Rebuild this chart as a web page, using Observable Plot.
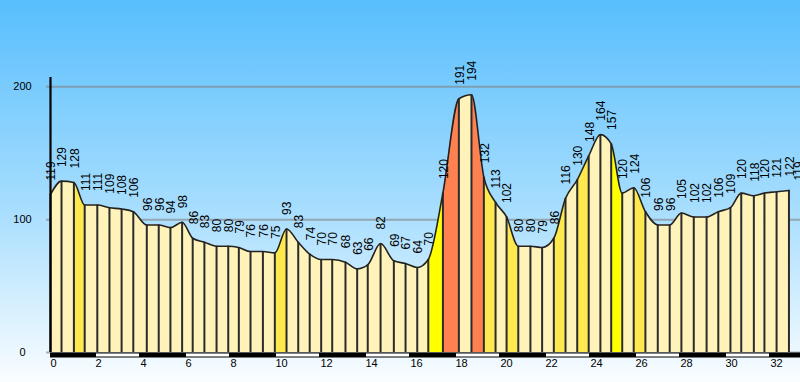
<!DOCTYPE html>
<html>
<head>
<meta charset="utf-8">
<script src="https://cdn.jsdelivr.net/npm/d3@7"></script>
<script src="https://cdn.jsdelivr.net/npm/@observablehq/plot@0.6"></script>
<style>
  html, body { margin: 0; padding: 0; }
  body {
    width: 800px; height: 382px; overflow: hidden;
    background: linear-gradient(to bottom, #58befd 0%, #a8defe 55%, #fafdff 100%);
  }
  #chart svg { display: block; background: none !important; }
</style>
</head>
<body>
<div id="chart"></div>
<script>
// Distance along the route (km) of each profile point
const distanceKm = [
  0, 0.49, 1.04, 1.52, 2.08, 2.62, 3.16, 3.68, 4.28, 4.81,
  5.33, 5.85, 6.32, 6.84, 7.38, 7.90, 8.37, 8.89, 9.44, 9.97,
  10.49, 11.01, 11.52, 12.03, 12.52, 13.11, 13.63, 14.10, 14.67, 15.26,
  15.78, 16.30, 16.79, 17.44, 18.15, 18.71, 19.26, 19.78, 20.27, 20.79,
  21.33, 21.85, 22.37, 22.89, 23.41, 23.92, 24.44, 24.92, 25.41, 25.92,
  26.44, 26.99, 27.52, 28.04, 28.59, 29.16, 29.68, 30.22, 30.70, 31.26,
  31.73, 32.27, 32.82, 33.24
];
// Elevation (m) of each profile point
const elevation = [
  119, 129, 128, 111, 111, 109, 108, 106, 96, 96,
  94, 98, 86, 83, 80, 80, 79, 76, 76, 75,
  93, 83, 74, 70, 70, 68, 63, 66, 82, 69,
  67, 64, 70, 120, 191, 194, 132, 113, 102, 80,
  80, 79, 86, 116, 130, 148, 164, 157, 120, 124,
  106, 96, 96, 105, 102, 102, 106, 109, 120, 118,
  120, 121, 122, 119
];
// Gradient class of each segment between consecutive drawn points (0 gentle .. 3 steep)
const gradeClass = [
  0, 0, 1, 0, 0, 0, 0, 0, 0, 0,
  0, 0, 0, 0, 0, 0, 0, 0, 0, 1,
  0, 0, 0, 0, 0, 0, 0, 0, 0, 0,
  0, 0, 2, 3, 0, 3, 1, 0, 1, 0,
  0, 0, 1, 0, 1, 0, 0, 2, 0, 1,
  0, 0, 0, 0, 0, 0, 0, 0, 0, 0,
  0, 0
];
const xTicks = [0, 2, 4, 6, 8, 10, 12, 14, 16, 18, 20, 22, 24, 26, 28, 30, 32];
const yTicks = [0, 100, 200];
const whiteBandStarts = [2, 6, 10, 14, 18, 22, 26, 30];
const gradeColors = ["#fff3b9", "#ffe94f", "#ffff00", "#ff8150"];

const drawnCount = gradeClass.length + 1;
const profile = distanceKm.slice(0, drawnCount).map((d, i) => ({d, e: elevation[i]}));
const labels = distanceKm.map((d, i) => ({d, e: elevation[i]}));
const segments = gradeClass.map((c, i) => ({x1: distanceKm[i], x2: distanceKm[i + 1], c}));

const W = 800, H = 382, ML = 50;
const pxPerKm = 22.5;

const svg = Plot.plot({
  width: W, height: H,
  marginLeft: ML, marginRight: 0, marginTop: 77, marginBottom: 30,
  x: {domain: [0, (W - ML) / pxPerKm], axis: null},
  y: {domain: [0, 207], axis: null},
  color: {type: "ordinal", domain: [0, 1, 2, 3], range: gradeColors},
  style: {background: "none", fontFamily: "'Liberation Sans', Arial, sans-serif", fontSize: "11px", overflow: "visible"},
  marks: [
    Plot.ruleY(yTicks, {stroke: "#808080", strokeOpacity: 0.6, strokeWidth: 2, insetLeft: -4}),
    Plot.rect(segments, {x1: "x1", x2: "x2", y1: 0, y2: 207, fill: "c"}),
    Plot.areaY(profile, {x: "d", y: "e", curve: "monotone-x", fill: "none"}),
    Plot.ruleX(profile, {x: "d", y1: 0, y2: "e", stroke: "#2b2b2b", strokeWidth: 2}),
    Plot.line(profile, {x: "d", y: "e", curve: "monotone-x", stroke: "#222", strokeWidth: 1.6}),
    Plot.ruleX([0], {y1: 0, y2: 207, stroke: "#000", strokeWidth: 2.2}),
    Plot.ruleY([0], {x1: 0, x2: 34, stroke: "#000", strokeWidth: 5, dy: 2.5}),
    Plot.ruleY(whiteBandStarts, {y: 0, x1: d => d, x2: d => d + 2, stroke: "#fff", strokeWidth: 3, dy: 2.5, insetLeft: 1, insetRight: 1}),
    Plot.text(xTicks, {x: d => d, y: 0, dy: 11, text: d => String(d), textAnchor: "start", fill: "#000"}),
    Plot.text(yTicks, {y: d => d, frameAnchor: "left", dx: -28, text: d => String(d), textAnchor: "middle", fill: "#000"}),
    Plot.text(labels, {x: "d", y: "e", text: d => String(d.e), rotate: -90, textAnchor: "start", dy: -14, dx: 1, fill: "#000",
      fontSize: 12, fontFamily: "'Liberation Sans Narrow', 'Arial Narrow', 'Liberation Sans', sans-serif"})
  ]
});

// Clip the coloured gradient segments to the profile area drawn by Plot
const ns = "http://www.w3.org/2000/svg";
const areaG = svg.querySelector('g[aria-label="area"]');
const areaPath = areaG.querySelector("path");
const rectG = svg.querySelector('g[aria-label="rect"]');
const defs = document.createElementNS(ns, "defs");
const clip = document.createElementNS(ns, "clipPath");
clip.setAttribute("id", "profileClip");
const cpath = document.createElementNS(ns, "path");
cpath.setAttribute("d", areaPath.getAttribute("d"));
if (areaG.getAttribute("transform")) cpath.setAttribute("transform", areaG.getAttribute("transform"));
clip.appendChild(cpath);
defs.appendChild(clip);
svg.insertBefore(defs, svg.firstChild);
const wrap = document.createElementNS(ns, "g");
wrap.setAttribute("clip-path", "url(#profileClip)");
rectG.parentNode.insertBefore(wrap, rectG);
wrap.appendChild(rectG);

document.getElementById("chart").appendChild(svg);
</script>
</body>
</html>
